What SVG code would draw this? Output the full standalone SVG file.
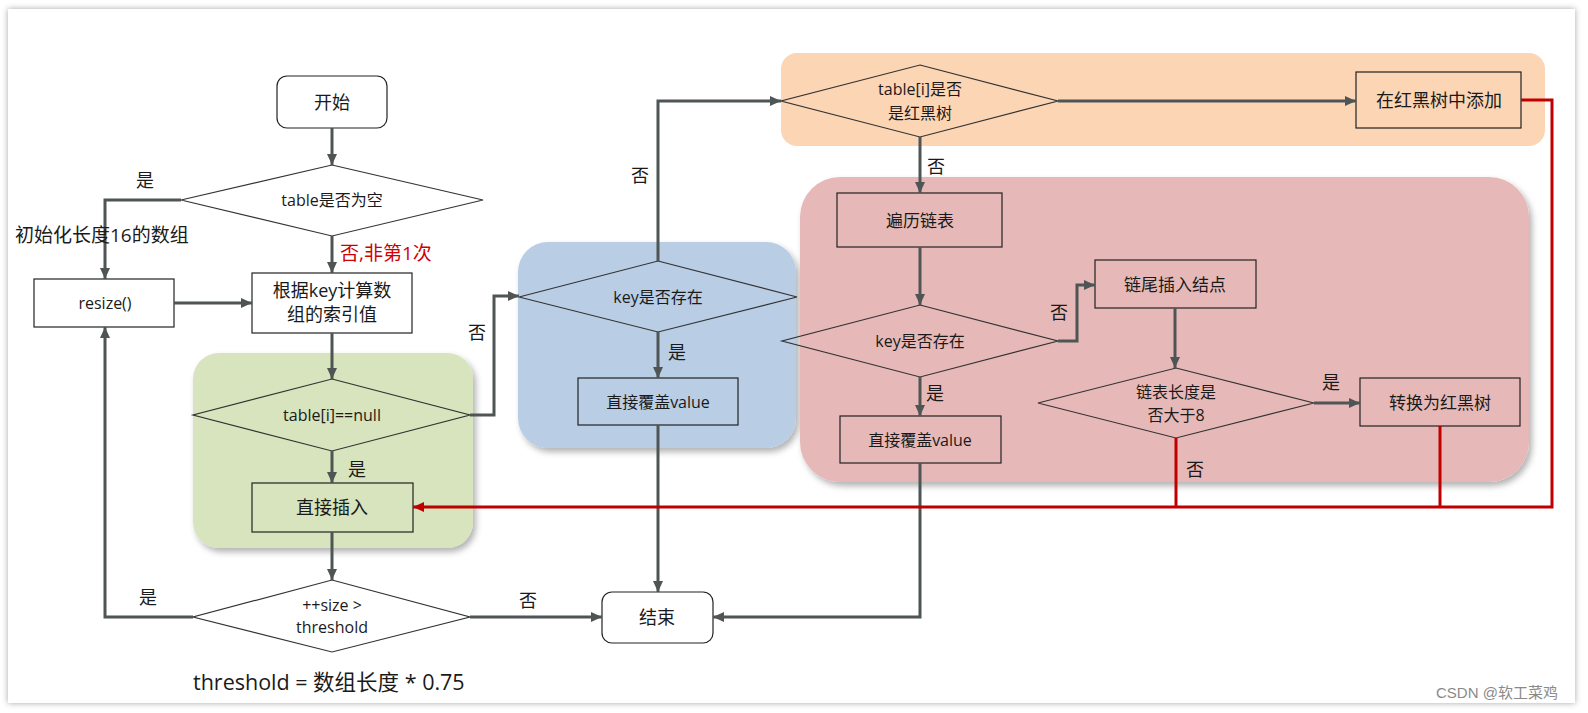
<svg xmlns="http://www.w3.org/2000/svg" width="1588" height="713" viewBox="0 0 1588 713">
<style>
text{font-family:"Open Sans","Noto Sans CJK SC",sans-serif;fill:#1a1a1a;}
.c{text-anchor:middle;dominant-baseline:central;}
.lbl{font-size:18px;}
.box{fill:none;stroke:#222;stroke-width:1.2;}
.wbox{fill:#fff;stroke:#222;stroke-width:1.2;}
.dia{fill:none;stroke:#333;stroke-width:1.2;}
.wdia{fill:#fff;stroke:#333;stroke-width:1.2;}
.con{fill:none;stroke:#4f5554;stroke-width:3;}
.red{fill:none;stroke:#c00000;stroke-width:3;}
</style>
<defs>
<marker id="arr" markerUnits="userSpaceOnUse" markerWidth="12" markerHeight="12" refX="11" refY="6" orient="auto"><path d="M0,1 L11,6 L0,11 z" fill="#4f5554"/></marker>
<marker id="arrR" markerUnits="userSpaceOnUse" markerWidth="12" markerHeight="12" refX="11" refY="6" orient="auto"><path d="M0,1 L11,6 L0,11 z" fill="#c00000"/></marker>
<filter id="fs" x="-5%" y="-5%" width="110%" height="110%"><feDropShadow dx="0" dy="0" stdDeviation="3" flood-color="#000" flood-opacity="0.35"/></filter>
<filter id="gs" x="-10%" y="-10%" width="125%" height="130%"><feDropShadow dx="3" dy="4" stdDeviation="3" flood-color="#000" flood-opacity="0.3"/></filter>
</defs>
<rect x="0" y="0" width="1588" height="713" fill="#fff"/>
<rect x="8" y="9" width="1567" height="694" fill="#fff" filter="url(#fs)"/>

<g id="regions">
<rect x="193" y="353" width="280" height="195" rx="26" fill="#d7e4bd" filter="url(#gs)"/>
<rect x="518" y="242" width="278" height="206" rx="30" fill="#b9cde5" filter="url(#gs)"/>
<rect x="781" y="53" width="764" height="93" rx="16" fill="#fcd5b5"/>
<rect x="800" y="177" width="729" height="305" rx="40" fill="#e6b9b8" filter="url(#gs)"/>
</g>

<g id="n-start"><rect class="wbox" x="277" y="76" width="110" height="52" rx="10"/><text class="c" x="332" y="102" font-size="18">开始</text></g>
<g id="n-empty"><polygon class="wdia" points="332,165 483,200 332,236 181,200"/><text class="c" x="332" y="200" font-size="16">table是否为空</text></g>
<g id="n-resize"><rect class="wbox" x="34" y="279" width="140" height="48"/><text class="c" x="105" y="303" font-size="16">resize()</text></g>
<g id="n-index"><rect class="wbox" x="252" y="273" width="160" height="60"/><text class="c" x="332" y="290" font-size="18">根据key计算数</text><text class="c" x="332" y="314" font-size="18">组的索引值</text></g>
<g id="n-null"><polygon class="dia" points="332,379 470,415 332,451 193,415"/><text class="c" x="332" y="415" font-size="16">table[i]==null</text></g>
<g id="n-insert"><rect class="box" x="252" y="483" width="161" height="49"/><text class="c" x="332" y="507" font-size="18">直接插入</text></g>
<g id="n-size"><polygon class="wdia" points="332,580 470,617 332,652 193,617"/><text class="c" x="332" y="605" font-size="16">++size &gt;</text><text class="c" x="332" y="627" font-size="16">threshold</text></g>
<g id="n-key1"><polygon class="dia" points="658,261 797,297 658,332 519,297"/><text class="c" x="658" y="297" font-size="16">key是否存在</text></g>
<g id="n-cover1"><rect class="box" x="578" y="378" width="160" height="47"/><text class="c" x="658" y="402" font-size="16">直接覆盖value</text></g>
<g id="n-end"><rect class="wbox" x="602" y="592" width="111" height="51" rx="10"/><text class="c" x="657" y="617" font-size="18">结束</text></g>
<g id="n-tree"><polygon class="dia" points="920,65 1058,101 920,137 781,101"/><text class="c" x="920" y="89" font-size="16">table[i]是否</text><text class="c" x="920" y="113" font-size="16">是红黑树</text></g>
<g id="n-treeadd"><rect class="box" x="1356" y="72" width="165" height="56"/><text class="c" x="1439" y="100" font-size="18">在红黑树中添加</text></g>
<g id="n-walk"><rect class="box" x="837" y="193" width="165" height="54"/><text class="c" x="920" y="220" font-size="17">遍历链表</text></g>
<g id="n-key2"><polygon class="dia" points="920,305 1058,341 920,377 782,341"/><text class="c" x="920" y="341" font-size="16">key是否存在</text></g>
<g id="n-cover2"><rect class="box" x="840" y="416" width="161" height="47"/><text class="c" x="920" y="440" font-size="16">直接覆盖value</text></g>
<g id="n-tail"><rect class="box" x="1095" y="260" width="161" height="48"/><text class="c" x="1175" y="284" font-size="17">链尾插入结点</text></g>
<g id="n-len"><polygon class="dia" points="1176,368 1314,403 1176,438 1038,403"/><text class="c" x="1176" y="392" font-size="16">链表长度是</text><text class="c" x="1176" y="415" font-size="16">否大于8</text></g>
<g id="n-convert"><rect class="box" x="1360" y="378" width="160" height="48"/><text class="c" x="1440" y="402" font-size="17">转换为红黑树</text></g>

<g id="connectors">
<path class="con" d="M332,128 V165" marker-end="url(#arr)"/>
<path class="con" d="M181,200 H105 V279" marker-end="url(#arr)"/>
<path class="con" d="M332,236 V273" marker-end="url(#arr)"/>
<path class="con" d="M174,303 H252" marker-end="url(#arr)"/>
<path class="con" d="M332,333 V379" marker-end="url(#arr)"/>
<path class="con" d="M470,415 H494 V296 H519" marker-end="url(#arr)"/>
<path class="con" d="M332,451 V483" marker-end="url(#arr)"/>
<path class="con" d="M332,532 V580" marker-end="url(#arr)"/>
<path class="con" d="M193,617 H105 V327" marker-end="url(#arr)"/>
<path class="con" d="M470,617 H602" marker-end="url(#arr)"/>
<path class="con" d="M658,261 V101 H781" marker-end="url(#arr)"/>
<path class="con" d="M658,332 V378" marker-end="url(#arr)"/>
<path class="con" d="M658,425 V592" marker-end="url(#arr)"/>
<path class="con" d="M1058,101 H1356" marker-end="url(#arr)"/>
<path class="con" d="M920,137 V193" marker-end="url(#arr)"/>
<path class="con" d="M920,247 V305" marker-end="url(#arr)"/>
<path class="con" d="M1058,341 H1077 V285 H1095" marker-end="url(#arr)"/>
<path class="con" d="M1175,308 V368" marker-end="url(#arr)"/>
<path class="con" d="M1314,403 H1360" marker-end="url(#arr)"/>
<path class="con" d="M920,377 V416" marker-end="url(#arr)"/>
<path class="con" d="M920,463 V617 H713" marker-end="url(#arr)"/>
<path class="red" d="M1176,438 V507"/>
<path class="red" d="M1440,426 V507"/>
<path class="red" d="M1521,100 H1552 V507 H413" marker-end="url(#arrR)"/>
</g>

<g id="labels">
<text class="c lbl" x="145" y="180">是</text>
<text x="15" y="242" font-size="19">初始化长度16的数组</text>
<text x="340" y="260" font-size="19" style="fill:#d00000">否,非第1次</text>
<text class="c lbl" x="477" y="332">否</text>
<text class="c lbl" x="357" y="469">是</text>
<text class="c lbl" x="148" y="597">是</text>
<text class="c lbl" x="528" y="600">否</text>
<text x="193" y="690" font-size="21.5">threshold = 数组长度 * 0.75</text>
<text class="c lbl" x="640" y="175">否</text>
<text class="c lbl" x="677" y="352">是</text>
<text class="c lbl" x="936" y="166">否</text>
<text class="c lbl" x="1059" y="312">否</text>
<text class="c lbl" x="935" y="393">是</text>
<text class="c lbl" x="1331" y="382">是</text>
<text class="c lbl" x="1195" y="469">否</text>
<text x="1436" y="698" font-size="15" style="fill:#8a8a8a;font-family:'Liberation Sans','Noto Sans CJK SC',sans-serif">CSDN @软工菜鸡</text>
</g>
</svg>
